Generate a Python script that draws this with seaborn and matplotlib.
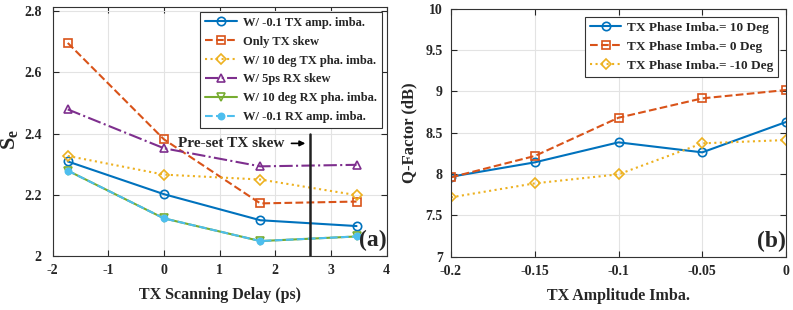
import numpy as np
import pandas as pd
import seaborn as sns
import matplotlib.pyplot as plt

# panel (a): Se vs TX scanning delay
delay = [-1.73, 0, 1.73, 3.46]
se_tx_amp = [2.309, 2.202, 2.117, 2.098]
se_only_skew = [2.696, 2.381, 2.172, 2.178]
se_tx_pha = [2.327, 2.266, 2.250, 2.199]
se_rx_skew = [2.479, 2.352, 2.293, 2.298]
se_rx_pha = [2.279, 2.123, 2.049, 2.064]
se_rx_amp = [2.279, 2.123, 2.049, 2.064]
preset_skew = 2.62

# panel (b): Q-factor vs TX amplitude imbalance
amp_imba = [-0.2, -0.15, -0.1, -0.05, 0]
q_pos10 = [7.967, 8.141, 8.383, 8.262, 8.629]
q_zero = [7.96, 8.218, 8.681, 8.915, 9.016]
q_neg10 = [7.718, 7.887, 7.996, 8.371, 8.411]

sns.set_theme(style="ticks")
plt.rcParams['font.family'] = ['Liberation Serif', 'DejaVu Serif']
plt.rcParams['font.weight'] = 'bold'
plt.rcParams['axes.labelweight'] = 'bold'
plt.rcParams['axes.unicode_minus'] = False
plt.rcParams['mathtext.fontset'] = 'custom'
plt.rcParams['mathtext.rm'] = 'Liberation Serif:bold'
plt.rcParams['mathtext.bf'] = 'Liberation Serif:bold'

blue, orange, yellow = "#0072BD", "#D95319", "#EDB120"
purple, green, cyan = "#7E2F8E", "#77AC30", "#4DBEEE"

fig = plt.figure(figsize=(7.93, 3.10), dpi=100)
ax1 = fig.add_axes([0.0665, 0.174, 0.421, 0.802])
ax2 = fig.add_axes([0.5687, 0.172, 0.4225, 0.800])

lw = 1.5
ms = 6
series_a = [
    (se_tx_amp, "W/ -0.1 TX amp. imba.", blue, "-", "o", "none"),
    (se_only_skew, "Only TX skew", orange, "--", "s", "none"),
    (se_tx_pha, "W/ 10 deg TX pha. imba.", yellow, ":", "D", "none"),
    (se_rx_skew, "W/ 5ps RX skew", purple, "-.", "^", "none"),
    (se_rx_pha, "W/ 10 deg RX pha. imba.", green, "-", "v", "none"),
    (se_rx_amp, "W/ -0.1 RX amp. imba.", cyan, "--", "o", cyan),
]
for vals, lab, col, ls, mk, fc in series_a:
    if mk == "D":
        size = 5
    elif mk == "s":
        size = 5.5
    elif fc != "none":
        size = 4.5
    else:
        size = ms
    sns.lineplot(x=delay, y=vals, ax=ax1, color=col, linestyle=ls, marker=mk,
                 markersize=size, markerfacecolor=fc, markeredgecolor=col,
                 markeredgewidth=1.2, linewidth=lw, label=lab)

ax1.plot([preset_skew, preset_skew], [2.0, 2.4], color="#222222", linewidth=1.8)
ax1.annotate("", xy=(preset_skew - 0.03, 2.368), xytext=(2.24, 2.368),
             arrowprops=dict(arrowstyle="-|>", color="black", lw=1.2, mutation_scale=8))
ax1.text(0.26, 2.368, "Pre-set TX skew", fontsize=11, fontweight="bold", va="center", ha="left")
ax1.text(1.0, 0.02, "(a)", transform=ax1.transAxes, fontsize=17, fontweight="bold",
         ha="right", va="bottom")

ax1.set_xlim(-2, 4)
ax1.set_ylim(2, 2.812)
ax1.set_xticks(range(-2, 5))
ax1.set_yticks([2, 2.2, 2.4, 2.6, 2.8])
ax1.set_yticklabels(["2", "2.2", "2.4", "2.6", "2.8"])
ax1.set_xlabel("TX Scanning Delay (ps)", fontsize=11.5, labelpad=7)
ax1.set_ylabel("S$_\\mathbf{e}$", fontsize=16, labelpad=6)
ax1.yaxis.set_label_coords(-0.095, 0.47)
leg1 = ax1.legend(loc="upper right", fontsize=9, frameon=True, fancybox=False,
                  edgecolor="#333333", framealpha=1, handlelength=2.6, borderaxespad=0.35,
                  labelspacing=0.55, handletextpad=0.5)
leg1.get_frame().set_linewidth(0.8)

series_b = [
    (q_pos10, "TX Phase Imba.= 10 Deg", blue, "-", "o"),
    (q_zero, "TX Phase Imba.= 0 Deg", orange, "--", "s"),
    (q_neg10, "TX Phase Imba.= -10 Deg", yellow, ":", "D"),
]
for vals, lab, col, ls, mk in series_b:
    sns.lineplot(x=amp_imba, y=vals, ax=ax2, color=col, linestyle=ls, marker=mk,
                 markersize=(5 if mk == "D" else (5.5 if mk == "s" else ms)),
                 markerfacecolor="none", markeredgecolor=col, markeredgewidth=1.2,
                 linewidth=lw, label=lab)

ax2.text(1.0, 0.02, "(b)", transform=ax2.transAxes, fontsize=17, fontweight="bold",
         ha="right", va="bottom")
ax2.set_xlim(-0.2, 0)
ax2.set_ylim(7, 10)
ax2.set_xticks([-0.2, -0.15, -0.1, -0.05, 0])
ax2.set_xticklabels(["-0.2", "-0.15", "-0.1", "-0.05", "0"])
ax2.set_yticks([7, 7.5, 8, 8.5, 9, 9.5, 10])
ax2.set_yticklabels(["7", "7.5", "8", "8.5", "9", "9.5", "10"])
ax2.set_xlabel("TX Amplitude Imba.", fontsize=11.5, labelpad=7)
ax2.set_ylabel("Q-Factor (dB)", fontsize=12, labelpad=6)
leg2 = ax2.legend(loc="upper right", fontsize=9.5, frameon=True, fancybox=False,
                  edgecolor="#333333", framealpha=1, handlelength=2.35, borderaxespad=0.6,
                  labelspacing=0.5, handletextpad=0.4)
leg2.get_frame().set_linewidth(0.8)

for ax in (ax1, ax2):
    ax.grid(True, color="#e3e3e3", linewidth=0.8)
    ax.set_axisbelow(True)
    ax.tick_params(direction="in", length=4, width=0.8, labelsize=10, colors="#262626",
                   top=True, right=True)
    ax.tick_params(axis="x", pad=6)
    for lab in ax.get_xticklabels() + ax.get_yticklabels():
        lab.set_fontweight("bold")
    for sp in ax.spines.values():
        sp.set_visible(True)
        sp.set_color("#333333")
        sp.set_linewidth(0.8)
ax1.tick_params(axis="y", pad=8)
ax2.tick_params(axis="y", pad=6)

fig.savefig("out.png", dpi=100)
